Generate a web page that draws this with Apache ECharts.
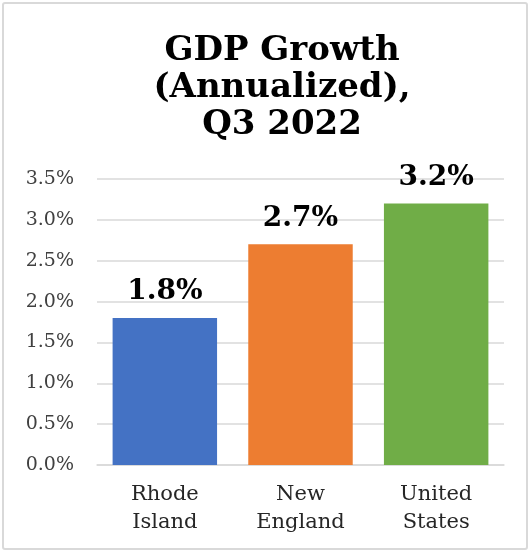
<!DOCTYPE html>
<html>
<head>
<meta charset="utf-8">
<script src="https://cdn.jsdelivr.net/npm/echarts@6/dist/echarts.min.js"></script>
<style>
  html, body { margin: 0; padding: 0; background: #fff; }
  #frame {
    position: absolute; left: 2px; top: 2px; width: 526px; height: 548px;
    border: 2px solid #d9d9d9; border-radius: 3px; box-sizing: border-box;
  }
  #chart { position: absolute; left: 0; top: 0; width: 532px; height: 554px; }
</style>
</head>
<body>
<div id="frame"></div>
<div id="chart"></div>
<script>
// GDP growth, annualized, third quarter of 2022
const categories = ['Rhode\nIsland', 'New\nEngland', 'United\nStates'];
const growth = [1.8, 2.7, 3.2];
const barColors = ['#4472C4', '#ED7D31', '#70AD47'];
const yTicks = [0, 0.5, 1.0, 1.5, 2.0, 2.5, 3.0, 3.5];

const serif = '"DejaVu Serif", "Liberation Serif", serif';

const chart = echarts.init(document.getElementById('chart'), null, { renderer: 'canvas' });
chart.setOption({
  animation: false,
  title: {
    text: 'GDP Growth\n(Annualized),\nQ3 2022',
    left: 277,
    top: 28,
    textAlign: 'center',
    textStyle: {
      fontFamily: serif,
      fontWeight: 'bold',
      fontSize: 34,
      lineHeight: 37,
      color: '#000'
    }
  },
  grid: { left: 97, right: 28, top: 179, bottom: 89, containLabel: false },
  xAxis: {
    type: 'category',
    data: categories,
    axisLine: { lineStyle: { color: '#d9d9d9', width: 1.5 } },
    axisTick: { show: false },
    axisLabel: {
      fontFamily: serif,
      fontSize: 21,
      lineHeight: 28,
      color: '#262626',
      margin: 16
    }
  },
  yAxis: {
    type: 'value',
    min: yTicks[0],
    max: yTicks[yTicks.length - 1],
    interval: 0.5,
    axisLine: { show: false },
    axisTick: { show: false },
    splitLine: { lineStyle: { color: '#d9d9d9', width: 1.5 } },
    axisLabel: {
      fontFamily: serif,
      fontSize: 19,
      color: '#404040',
      margin: 23,
      formatter: v => v.toFixed(1) + '%'
    }
  },
  series: [{
    type: 'bar',
    data: growth.map((v, i) => ({ value: v, itemStyle: { color: barColors[i] } })),
    barCategoryGap: '23%',
    label: {
      show: true,
      position: 'top',
      distance: 12,
      fontFamily: serif,
      fontWeight: 'bold',
      fontSize: 28,
      color: '#000',
      formatter: p => p.value.toFixed(1) + '%'
    }
  }]
});
</script>
</body>
</html>
